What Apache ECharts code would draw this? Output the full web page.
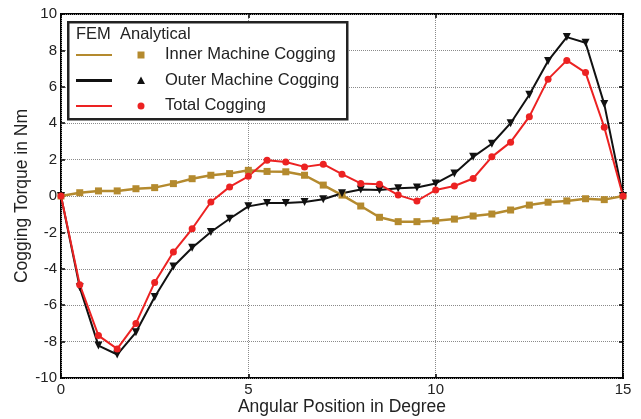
<!DOCTYPE html>
<html>
<head>
<meta charset="utf-8">
<script src="https://cdn.jsdelivr.net/npm/echarts@6/dist/echarts.min.js"></script>
<style>
  * { margin: 0; padding: 0; }
  body { background: #fff; }
</style>
</head>
<body>
<div id="main" style="width: 641px;height: 419px;"></div>
<script>
  // angular positions, every 0.5 degree
  var positions = [0, 0.5, 1, 1.5, 2, 2.5, 3, 3.5, 4, 4.5, 5, 5.5, 6, 6.5, 7, 7.5,
    8, 8.5, 9, 9.5, 10, 10.5, 11, 11.5, 12, 12.5, 13, 13.5, 14, 14.5, 15]
  var innerCogging = [0, 0.18, 0.28, 0.28, 0.4, 0.46, 0.68, 0.95, 1.14, 1.23, 1.41, 1.35, 1.33, 1.14, 0.6, 0.05,
    -0.55, -1.17, -1.41, -1.41, -1.36, -1.27, -1.1, -0.99, -0.77, -0.5, -0.34, -0.27, -0.15, -0.2, 0]
  var outerCogging = [0, -5.02, -8.22, -8.71, -7.49, -5.55, -3.87, -2.84, -1.98, -1.25, -0.57, -0.39, -0.39, -0.33, -0.18, 0.15,
    0.36, 0.33, 0.42, 0.47, 0.69, 1.24, 2.15, 2.87, 4.0, 5.56, 7.42, 8.73, 8.42, 5.05, 0]
  var totalCogging = [0, -4.87, -7.67, -8.4, -7.0, -4.75, -3.08, -1.8, -0.33, 0.5, 1.08, 1.96, 1.87, 1.6, 1.75, 1.2,
    0.69, 0.64, 0.05, -0.27, 0.33, 0.55, 0.96, 2.15, 2.96, 4.36, 6.42, 7.45, 6.78, 3.78, 0]
  var seriesNames = ['Inner Machine Cogging', 'Outer Machine Cogging', 'Total Cogging']
  var seriesColors = ['#b48a2e', '#111111', '#ec2222']

  function pairs(vals) {
    return positions.map(function (x, i) { return [x, vals[i]] })
  }

  var font = 'Liberation Sans, Arial, sans-serif'
  var myChart = echarts.init(document.getElementById('main'))

  var tick = { inside: true, length: 4, lineStyle: { color: '#000', width: 1.5 } }
  var grid = { type: 'dotted', color: '#8a8a8a', width: 1 }
  var hiddenAxis = {
    axisLine: { show: false, onZero: false },
    axisLabel: { show: false },
    splitLine: { show: false },
    axisTick: tick
  }

  var option = {
    animation: false,
    backgroundColor: '#fff',
    grid: {
      left: 61, right: 18, top: 14, bottom: 41, outerBoundsMode: 'none', containLabel: false,
      show: true, borderColor: '#000', borderWidth: 2, backgroundColor: 'transparent'
    },
    xAxis: [{
      type: 'value', min: 0, max: 15, interval: 5,
      name: 'Angular Position in Degree', nameLocation: 'middle', nameGap: 20, nameMoveOverlap: false,
      nameTextStyle: { fontFamily: font, fontSize: 17.5, color: '#222' },
      axisLine: { show: false, onZero: false },
      axisTick: tick,
      axisLabel: { fontFamily: font, fontSize: 15, color: '#222', margin: 4 },
      splitLine: { show: true, lineStyle: grid }
    }, Object.assign({ type: 'value', min: 0, max: 15, interval: 5, position: 'top' }, hiddenAxis)],
    yAxis: [{
      type: 'value', min: -10, max: 10, interval: 2,
      name: 'Cogging Torque in Nm', nameLocation: 'middle', nameGap: 30, nameMoveOverlap: false,
      nameTextStyle: { fontFamily: font, fontSize: 17.5, color: '#222' },
      axisLine: { show: false, onZero: false },
      axisTick: tick,
      axisLabel: { fontFamily: font, fontSize: 15, color: '#222', margin: 4 },
      splitLine: { show: true, lineStyle: grid }
    }, Object.assign({ type: 'value', min: -10, max: 10, interval: 2, position: 'right' }, hiddenAxis)],
    series: [
      {
        name: seriesNames[0], type: 'line', data: pairs(innerCogging),
        symbol: 'rect', symbolSize: 7, color: seriesColors[0],
        lineStyle: { width: 2.5, color: seriesColors[0] }
      },
      {
        name: seriesNames[1], type: 'line', data: pairs(outerCogging),
        symbol: 'triangle', symbolRotate: 180, symbolSize: 8, color: seriesColors[1],
        lineStyle: { width: 2, color: seriesColors[1] }
      },
      {
        name: seriesNames[2], type: 'line', data: pairs(totalCogging),
        symbol: 'circle', symbolSize: 7, color: seriesColors[2],
        lineStyle: { width: 2, color: seriesColors[2] }
      }
    ],
    // legend box: line column (FEM) and marker column (Analytical)
    graphic: [
      { type: 'rect', left: 67, top: 21, z: 100, shape: { width: 279, height: 97 }, style: { fill: '#fff', stroke: '#222', lineWidth: 2.5 } },
      { type: 'text', left: 76, top: 26, z: 101, style: { text: 'FEM  Analytical', fontFamily: font, fontSize: 16.5, fill: '#222' } }
    ]
  }

  var markerShapes = ['rect', 'triangle', 'circle']
  var rowY = [55, 80.5, 106]
  for (var i = 0; i < 3; i++) {
    option.graphic.push({ type: 'line', z: 101, shape: { x1: 76, y1: rowY[i], x2: 112, y2: rowY[i] }, style: { stroke: seriesColors[i], lineWidth: i === 1 ? 3 : 2 } })
    if (markerShapes[i] === 'rect') {
      option.graphic.push({ type: 'rect', z: 101, shape: { x: 137.5, y: rowY[i] - 3.5, width: 7, height: 7 }, style: { fill: seriesColors[i] } })
    } else if (markerShapes[i] === 'triangle') {
      option.graphic.push({ type: 'polygon', z: 101, shape: { points: [[141, rowY[i] - 4], [145, rowY[i] + 3.5], [137, rowY[i] + 3.5]] }, style: { fill: seriesColors[i] } })
    } else {
      option.graphic.push({ type: 'circle', z: 101, shape: { cx: 141, cy: rowY[i], r: 3.5 }, style: { fill: seriesColors[i] } })
    }
    option.graphic.push({ type: 'text', z: 101, x: 165, y: rowY[i] - 9, style: { text: seriesNames[i], fontFamily: font, fontSize: 16.5, fill: '#222' } })
  }

  myChart.setOption(option)
</script>
</body>
</html>
